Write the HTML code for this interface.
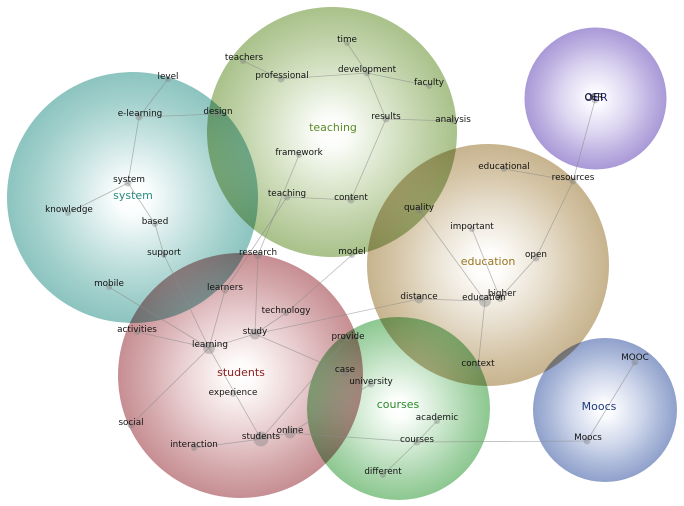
<!DOCTYPE html>
<html>
<head>
<meta charset="utf-8">
<style>
  html,body{margin:0;padding:0;background:#fff;}
  svg{display:block;}
  .c{mix-blend-mode:multiply;}
  .n{font-family:"DejaVu Sans","Liberation Sans",sans-serif;font-size:8.8px;fill:#111;text-anchor:middle;}
  .L{font-family:"DejaVu Sans","Liberation Sans",sans-serif;font-size:11px;text-anchor:middle;}
  .e line{stroke:#8a8a8a;stroke-opacity:0.6;stroke-width:0.8;}
  .d circle{fill:#808080;fill-opacity:0.4;}
</style>
</head>
<body>
<svg width="684" height="506" viewBox="0 0 684 506" xmlns="http://www.w3.org/2000/svg">
  <defs>
    <radialGradient id="gTeal"><stop offset="0" stop-color="#ffffff"/><stop offset="0.12" stop-color="#fcfefe"/><stop offset="0.5" stop-color="#c6e3e1"/><stop offset="0.78" stop-color="#a2d0cc"/><stop offset="1" stop-color="#8cc4c0"/></radialGradient>
    <radialGradient id="gGreen"><stop offset="0" stop-color="#ffffff"/><stop offset="0.12" stop-color="#fcfdfa"/><stop offset="0.5" stop-color="#d6e3c6"/><stop offset="0.78" stop-color="#bccfa3"/><stop offset="1" stop-color="#a9c18a"/></radialGradient>
    <radialGradient id="gTan"><stop offset="0" stop-color="#ffffff"/><stop offset="0.12" stop-color="#fefdfb"/><stop offset="0.5" stop-color="#e6ddcc"/><stop offset="0.78" stop-color="#d4c4a5"/><stop offset="1" stop-color="#c7b38e"/></radialGradient>
    <radialGradient id="gPurple"><stop offset="0" stop-color="#ffffff"/><stop offset="0.1" stop-color="#fcfbff"/><stop offset="0.5" stop-color="#dbd4f0"/><stop offset="0.78" stop-color="#bdb1e1"/><stop offset="1" stop-color="#a999d7"/></radialGradient>
    <radialGradient id="gRed"><stop offset="0" stop-color="#ffffff"/><stop offset="0.12" stop-color="#fefafa"/><stop offset="0.5" stop-color="#e8cdcf"/><stop offset="0.78" stop-color="#d4a8ab"/><stop offset="1" stop-color="#c68e92"/></radialGradient>
    <radialGradient id="gCourse"><stop offset="0" stop-color="#ffffff"/><stop offset="0.12" stop-color="#fbfefb"/><stop offset="0.5" stop-color="#cbe7cd"/><stop offset="0.78" stop-color="#a6d4a9"/><stop offset="1" stop-color="#8cc790"/></radialGradient>
    <radialGradient id="gBlue"><stop offset="0" stop-color="#ffffff"/><stop offset="0.1" stop-color="#fbfcfe"/><stop offset="0.5" stop-color="#cfd7eb"/><stop offset="0.78" stop-color="#a9b7d8"/><stop offset="1" stop-color="#8fa0cb"/></radialGradient>
  </defs>

  <rect width="684" height="506" fill="#fff"/>

  <!-- clusters -->
  <circle class="c" cx="132.5" cy="197.5" r="125.5" fill="url(#gTeal)"/>
  <circle class="c" cx="332" cy="132" r="125" fill="url(#gGreen)"/>
  <circle class="c" cx="488" cy="265" r="121" fill="url(#gTan)"/>
  <circle class="c" cx="595.5" cy="98.5" r="71" fill="url(#gPurple)"/>
  <circle class="c" cx="240.5" cy="375.5" r="122.5" fill="url(#gRed)"/>
  <circle class="c" cx="398.5" cy="408.5" r="91.5" fill="url(#gCourse)"/>
  <circle class="c" cx="605" cy="410" r="72" fill="url(#gBlue)"/>

  <!-- edges -->
  <g class="e">
    <line x1="168" y1="79" x2="139" y2="117"/>
    <line x1="139" y1="117" x2="218" y2="114"/>
    <line x1="139" y1="117" x2="128" y2="183"/>
    <line x1="128" y1="183" x2="68" y2="213"/>
    <line x1="128" y1="183" x2="155" y2="224"/>
    <line x1="155" y1="224" x2="164" y2="255"/>
    <line x1="164" y1="255" x2="209" y2="348"/>
    <line x1="347" y1="43" x2="367" y2="73"/>
    <line x1="243" y1="61" x2="281" y2="79"/>
    <line x1="281" y1="79" x2="367" y2="73"/>
    <line x1="367" y1="73" x2="429" y2="86"/>
    <line x1="367" y1="73" x2="386" y2="119"/>
    <line x1="386" y1="119" x2="453" y2="121"/>
    <line x1="386" y1="119" x2="351" y2="200"/>
    <line x1="287" y1="197" x2="351" y2="200"/>
    <line x1="299" y1="155" x2="258" y2="255"/>
    <line x1="287" y1="197" x2="225" y2="290"/>
    <line x1="258" y1="255" x2="255" y2="334"/>
    <line x1="109" y1="287" x2="209" y2="348"/>
    <line x1="137" y1="332" x2="209" y2="348"/>
    <line x1="225" y1="290" x2="209" y2="348"/>
    <line x1="209" y1="348" x2="255" y2="334"/>
    <line x1="255" y1="334" x2="286" y2="313"/>
    <line x1="286" y1="313" x2="352" y2="255"/>
    <line x1="255" y1="334" x2="419" y2="299"/>
    <line x1="255" y1="334" x2="345" y2="373"/>
    <line x1="209" y1="348" x2="131" y2="425"/>
    <line x1="209" y1="348" x2="261" y2="439"/>
    <line x1="194" y1="448" x2="261" y2="439"/>
    <line x1="261" y1="439" x2="290" y2="433"/>
    <line x1="261" y1="439" x2="348" y2="338"/>
    <line x1="290" y1="433" x2="371" y2="384"/>
    <line x1="290" y1="433" x2="417" y2="442"/>
    <line x1="417" y1="442" x2="587" y2="441"/>
    <line x1="417" y1="442" x2="437" y2="421"/>
    <line x1="417" y1="442" x2="383" y2="475"/>
    <line x1="587" y1="441" x2="635" y2="362"/>
    <line x1="419" y1="299" x2="485" y2="301"/>
    <line x1="419" y1="210" x2="485" y2="301"/>
    <line x1="472" y1="229" x2="500" y2="298"/>
    <line x1="500" y1="298" x2="536" y2="258"/>
    <line x1="536" y1="258" x2="573" y2="181"/>
    <line x1="504" y1="169" x2="573" y2="181"/>
    <line x1="573" y1="181" x2="595" y2="100"/>
    <line x1="485" y1="301" x2="478" y2="367"/>
  </g>

  <!-- node dots -->
  <g class="d">
    <circle cx="168" cy="79" r="3"/>
    <circle cx="139" cy="117" r="3.5"/>
    <circle cx="218" cy="114" r="3.5"/>
    <circle cx="128" cy="183" r="3.5"/>
    <circle cx="68" cy="213" r="3"/>
    <circle cx="155" cy="224" r="3"/>
    <circle cx="164" cy="255" r="3"/>
    <circle cx="347" cy="43" r="3"/>
    <circle cx="243" cy="61" r="3"/>
    <circle cx="281" cy="79" r="3.5"/>
    <circle cx="367" cy="73" r="3.5"/>
    <circle cx="429" cy="86" r="3"/>
    <circle cx="386" cy="119" r="3.5"/>
    <circle cx="453" cy="121" r="3"/>
    <circle cx="299" cy="155" r="3"/>
    <circle cx="287" cy="197" r="3.5"/>
    <circle cx="351" cy="200" r="3.5"/>
    <circle cx="419" cy="210" r="3.5"/>
    <circle cx="258" cy="255" r="4"/>
    <circle cx="352" cy="255" r="3"/>
    <circle cx="109" cy="287" r="3"/>
    <circle cx="225" cy="290" r="3.5"/>
    <circle cx="286" cy="313" r="3"/>
    <circle cx="137" cy="332" r="3"/>
    <circle cx="255" cy="334" r="5.5"/>
    <circle cx="348" cy="338" r="3"/>
    <circle cx="209" cy="348" r="6"/>
    <circle cx="345" cy="373" r="3"/>
    <circle cx="371" cy="384" r="3.5"/>
    <circle cx="233" cy="394" r="3"/>
    <circle cx="131" cy="425" r="3.5"/>
    <circle cx="437" cy="421" r="3"/>
    <circle cx="261" cy="439" r="7.5"/>
    <circle cx="290" cy="433" r="5.5"/>
    <circle cx="417" cy="442" r="3.5"/>
    <circle cx="194" cy="448" r="3"/>
    <circle cx="383" cy="475" r="3"/>
    <circle cx="504" cy="169" r="3"/>
    <circle cx="573" cy="181" r="3.5"/>
    <circle cx="472" cy="229" r="3"/>
    <circle cx="536" cy="258" r="3.5"/>
    <circle cx="419" cy="299" r="4.5"/>
    <circle cx="485" cy="301" r="6"/>
    <circle cx="500" cy="298" r="4"/>
    <circle cx="478" cy="367" r="3"/>
    <circle cx="595" cy="100" r="3.5"/>
    <circle cx="635" cy="362" r="3.5"/>
    <circle cx="587" cy="441" r="3.5"/>
  </g>

  <!-- cluster labels -->
  <text class="L" x="133" y="199" fill="#2a8a80">system</text>
  <text class="L" x="333" y="131" fill="#5a8a28">teaching</text>
  <text class="L" x="488" y="265" fill="#9a7420">education</text>
  <text class="L" x="241" y="376" fill="#8b1c1c">students</text>
  <text class="L" x="398" y="408" fill="#2a8a2a">courses</text>
  <text class="L" x="599" y="410" fill="#1f3a7a">Moocs</text>
  <text class="L" x="596" y="101" fill="#1c1c6e">OER</text>

  <!-- node labels -->
  <g class="n">
    <text x="168" y="79">level</text>
    <text x="140" y="116">e-learning</text>
    <text x="218" y="114">design</text>
    <text x="129" y="182">system</text>
    <text x="69" y="212">knowledge</text>
    <text x="155" y="224">based</text>
    <text x="164" y="255">support</text>
    <text x="347" y="42">time</text>
    <text x="244" y="60">teachers</text>
    <text x="282" y="78">professional</text>
    <text x="367" y="72">development</text>
    <text x="429" y="85">faculty</text>
    <text x="386" y="119">results</text>
    <text x="453" y="122">analysis</text>
    <text x="299" y="155">framework</text>
    <text x="287" y="196">teaching</text>
    <text x="351" y="200">content</text>
    <text x="419" y="210">quality</text>
    <text x="258" y="255">research</text>
    <text x="352" y="254">model</text>
    <text x="109" y="286">mobile</text>
    <text x="225" y="290">learners</text>
    <text x="286" y="313">technology</text>
    <text x="137" y="332">activities</text>
    <text x="255" y="334">study</text>
    <text x="348" y="339">provide</text>
    <text x="210" y="347">learning</text>
    <text x="345" y="372">case</text>
    <text x="371" y="384">university</text>
    <text x="233" y="395">experience</text>
    <text x="131" y="425">social</text>
    <text x="437" y="420">academic</text>
    <text x="261" y="439">students</text>
    <text x="290" y="433">online</text>
    <text x="417" y="442">courses</text>
    <text x="194" y="447">interaction</text>
    <text x="383" y="474">different</text>
    <text x="504" y="169">educational</text>
    <text x="573" y="180">resources</text>
    <text x="472" y="229">important</text>
    <text x="536" y="257">open</text>
    <text x="419" y="299">distance</text>
    <text x="484" y="300">education</text>
    <text x="502" y="296">higher</text>
    <text x="478" y="366">context</text>
    <text x="594" y="100">OER</text>
    <text x="635" y="360">MOOC</text>
    <text x="588" y="440">Moocs</text>
  </g>
</svg>
</body>
</html>
